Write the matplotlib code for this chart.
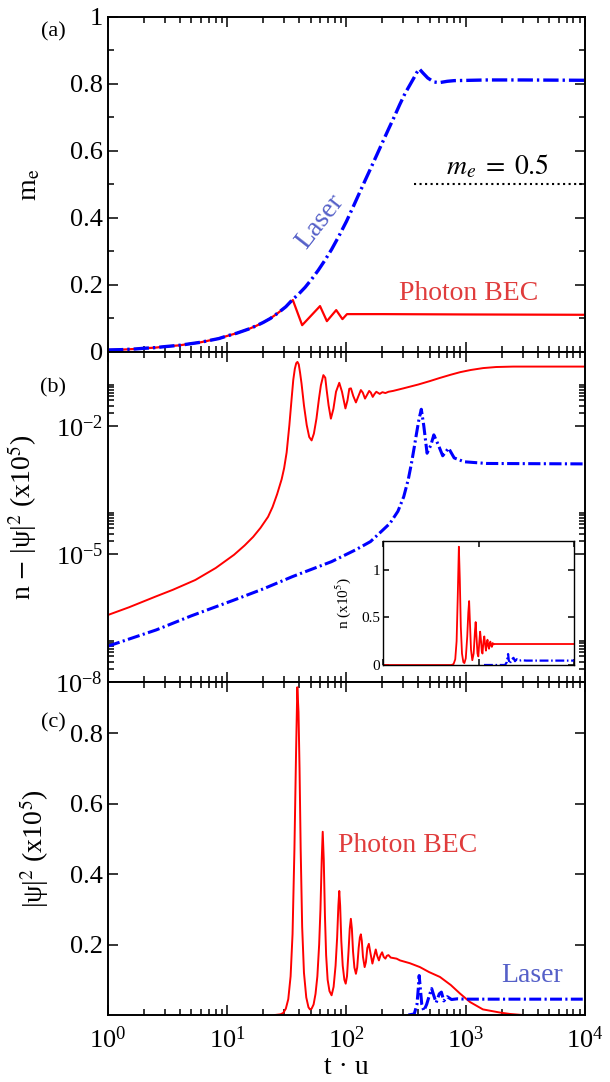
import matplotlib
matplotlib.use('Agg')
import matplotlib.pyplot as plt
import matplotlib.ticker as mticker
import numpy as np

plt.rcParams['font.family'] = ['Liberation Serif', 'DejaVu Serif']
plt.rcParams['mathtext.fontset'] = 'stix'

# ---- data (t in units of 1/u) ----
# (a) excited-state fraction m_e
me_laser = [(1, 0.006), (1.3, 0.007), (1.7, 0.009), (2, 0.011), (2.5, 0.013), (3, 0.016),
            (4, 0.02), (5, 0.025), (6, 0.029), (7, 0.034), (8.5, 0.04), (10, 0.048),
            (12, 0.056), (15, 0.068), (17.5, 0.078), (20, 0.088), (23, 0.1), (27, 0.118),
            (31, 0.135), (35, 0.155), (40, 0.174), (45, 0.193), (51, 0.217), (58, 0.244),
            (66, 0.274), (75, 0.306), (87, 0.348), (100, 0.39), (115, 0.437), (130, 0.479),
            (145, 0.516), (160, 0.549), (180, 0.589), (200, 0.625), (225, 0.665), (250, 0.7),
            (280, 0.739), (310, 0.772), (340, 0.797), (370, 0.82), (390, 0.835), (408, 0.845),
            (440, 0.832), (480, 0.818), (540, 0.806), (600, 0.804), (700, 0.808), (800, 0.81),
            (1500, 0.812), (3000, 0.812), (10000, 0.811)]
me_bec = [(1, 0.006), (1.3, 0.007), (1.7, 0.009), (2, 0.011), (2.5, 0.013), (3, 0.016),
          (4, 0.02), (5, 0.025), (6, 0.029), (7, 0.034), (8.5, 0.04), (10, 0.048),
          (12, 0.056), (15, 0.068), (17.5, 0.078), (20, 0.088), (23, 0.1), (27, 0.118),
          (31, 0.135), (35.5, 0.155), (42.5, 0.08), (60, 0.137), (68.5, 0.092), (82, 0.125),
          (92.5, 0.098), (101, 0.113), (200, 0.113), (1000, 0.112), (10000, 0.111)]

# (b) log10 of n - |psi|^2  (x1e5)
gap_bec = [(1, -6.43), (1.5, -6.25), (2.5, -6.0), (3.5, -5.84), (5.4, -5.61), (8, -5.33),
           (11.4, -5.02), (14, -4.8), (16.5, -4.6), (19, -4.39), (22, -4.13), (24, -3.9),
           (26.2, -3.6), (28.6, -3.25), (30, -2.99), (31.5, -2.62), (33.2, -1.98), (34.7, -1.35),
           (35.8, -0.92), (36.9, -0.66), (37.9, -0.53), (38.8, -0.5), (39.8, -0.56), (40.8, -0.75),
           (42, -1.01), (44, -1.52), (46.4, -1.98), (48.7, -2.26), (51, -2.34), (53.3, -2.18),
           (56, -1.83), (58.8, -1.36), (61, -1.05), (64, -0.81), (66.4, -0.87), (68, -1.13),
           (70.8, -1.52), (74, -1.83), (77.7, -1.6), (81.7, -1.2), (87, -0.99), (91.7, -1.2),
           (98, -1.59), (102, -1.4), (105.6, -1.13), (109, -1.12), (114, -1.3), (120, -1.45),
           (126, -1.3), (132, -1.16), (137, -1.22), (143, -1.36), (149, -1.27), (155, -1.18),
           (160, -1.22), (166, -1.32), (172, -1.25), (178, -1.2), (190, -1.25), (200, -1.21),
           (212, -1.23), (225, -1.2), (246, -1.18), (300, -1.12), (400, -1.03), (500, -0.95),
           (600, -0.88), (750, -0.8), (900, -0.74), (1100, -0.69), (1400, -0.645), (1800, -0.62),
           (2500, -0.61), (10000, -0.61)]
gap_laser = [(1, -7.16), (2.54, -6.78), (5, -6.45), (11.4, -6.08), (20, -5.82), (35.3, -5.53),
             (75, -5.18), (120, -4.9), (159, -4.71), (200, -4.45), (232, -4.28), (270, -4.0),
             (302, -3.66), (330, -3.25), (351, -2.87), (370, -2.5), (387, -2.17), (405, -1.85),
             (424, -1.61), (445, -2.0), (474, -2.64), (510, -2.45), (540, -2.21), (590, -2.45),
             (641, -2.7), (718, -2.52), (800, -2.75), (970, -2.84), (1500, -2.88), (10000, -2.89)]

# (b, inset) n (x1e5)
n_bec = [(1, 0.0), (27, 0.0), (30, 0.01), (32.5, 0.06), (34.7, 0.25), (36.6, 0.7), (38.7, 1.24),
         (40.5, 0.9), (42.5, 0.4), (45, 0.12), (48, 0.03), (50.5, 0.02), (54, 0.07), (58, 0.3),
         (61, 0.55), (63.5, 0.67), (66, 0.45), (69.5, 0.16), (74, 0.05), (79, 0.12), (84, 0.35),
         (87, 0.45), (90.5, 0.3), (95, 0.12), (99, 0.09), (104, 0.25), (108, 0.35), (112, 0.27),
         (117, 0.14), (121, 0.12), (127, 0.25), (132, 0.3), (137, 0.22), (143, 0.15), (149, 0.23),
         (154, 0.265), (160, 0.2), (166, 0.17), (172, 0.225), (177, 0.245), (183, 0.205),
         (190, 0.19), (198, 0.23), (206, 0.215), (215, 0.22), (240, 0.22), (10000, 0.22)]
n_laser = [(130, 0.0), (360, 0.0), (390, 0.03), (405, 0.08), (416, 0.115), (430, 0.05),
           (450, 0.015), (500, 0.06), (540, 0.075), (580, 0.04), (630, 0.06), (700, 0.045),
           (800, 0.05), (1000, 0.046), (10000, 0.046)]

# (c) condensate |psi|^2 (x1e5)
psi_bec = [(25, 0.0), (28, 0.002), (29.5, 0.006), (31, 0.018), (32.5, 0.045), (34, 0.11),
           (35.3, 0.23), (36.6, 0.47), (37.8, 0.75), (38.7, 0.93), (39.6, 0.86), (40.4, 0.7),
           (41.3, 0.47), (42.5, 0.25), (44, 0.12), (46, 0.05), (48, 0.022), (49.4, 0.016),
           (51, 0.018), (53, 0.03), (55, 0.06), (57, 0.11), (59, 0.2), (60.5, 0.3), (62, 0.44),
           (63.2, 0.52), (64.5, 0.44), (66, 0.28), (67.5, 0.17), (69.5, 0.1), (72, 0.068),
           (75, 0.056), (78, 0.08), (81, 0.14), (83.5, 0.22), (85.5, 0.31), (87, 0.352),
           (88.5, 0.31), (90.5, 0.21), (93, 0.14), (96, 0.1), (98.5, 0.089), (101, 0.11),
           (104, 0.18), (106.5, 0.245), (108.8, 0.273), (111, 0.245), (113.5, 0.18),
           (116.5, 0.135), (120, 0.117), (123, 0.135), (126.5, 0.19), (129.5, 0.22), (132, 0.229),
           (134.5, 0.21), (137.5, 0.165), (142, 0.136), (145.5, 0.15), (149.5, 0.19), (154, 0.202),
           (158, 0.18), (165, 0.146), (170, 0.165), (176, 0.186), (181, 0.168), (187, 0.155),
           (193, 0.17), (199, 0.178), (205, 0.165), (212, 0.16), (218, 0.168), (225, 0.17),
           (235, 0.163), (263, 0.16), (281, 0.155), (340, 0.147), (413, 0.136), (492, 0.122),
           (608, 0.108), (750, 0.085), (895, 0.061), (1085, 0.037), (1392, 0.016), (1936, 0.007),
           (2350, 0.003), (3000, 0.0)]
psi_laser = [(330, 0.0), (370, 0.003), (390, 0.03), (400, 0.075), (407, 0.112), (415, 0.08),
             (428, 0.03), (445, 0.012), (470, 0.03), (500, 0.06), (518, 0.075), (540, 0.055),
             (565, 0.035), (600, 0.06), (625, 0.065), (655, 0.04), (700, 0.052), (760, 0.044),
             (850, 0.046), (1000, 0.045), (10000, 0.045)]

RED = '#ff0000'
BLUE = '#0000ff'
RED_TXT = '#e03c3c'
BLUE_TXT = '#5560c8'


def xy(pairs):
    a = np.array(pairs, dtype=float)
    return a[:, 0], a[:, 1]


def style_axes(ax, size=19, major=7, minor=4):
    ax.tick_params(which='both', direction='in', top=True, right=True,
                   labelsize=size, width=1.1)
    ax.tick_params(which='major', length=major)
    ax.tick_params(which='minor', length=minor)
    for s in ax.spines.values():
        s.set_linewidth(1.4)


fig = plt.figure(figsize=(6.1, 10.82), dpi=100)
left, width = 0.177, 0.782
ax_a = fig.add_axes([left, 0.6747, width, 0.3096])
ax_b = fig.add_axes([left, 0.3697, width, 0.3050], sharex=ax_a)
ax_c = fig.add_axes([left, 0.0619, width, 0.3078], sharex=ax_a)

# ---- (a) ----
t, v = xy(me_bec)
ax_a.plot(t, v, color=RED, lw=1.6)
t, v = xy(me_laser)
ax_a.plot(t, v, color=BLUE, lw=2.4, dashes=[4.6, 1.2, 0.7, 1.2])
ax_a.hlines(0.5, 368, 1e4, colors='k', linestyles=':', lw=1.5)
ax_a.set_xscale('log')
ax_a.set_xlim(1, 1e4)
ax_a.set_ylim(0, 1)
ax_a.yaxis.set_major_locator(mticker.MultipleLocator(0.2))
ax_a.yaxis.set_minor_locator(mticker.MultipleLocator(0.1))
ax_a.yaxis.set_major_formatter(mticker.FuncFormatter(lambda y, p: '%g' % y))
ax_a.set_ylabel(r'm$_{\rm e}$', fontsize=20)
ax_a.yaxis.set_label_coords(-0.138, 0.5)
ax_a.text(60, 0.388, 'Laser', color=BLUE_TXT, fontsize=20, rotation=52,
          ha='center', va='center')
ax_a.text(1065, 0.176, 'Photon BEC', color=RED_TXT, fontsize=20, ha='center', va='center')
ax_a.text(1860, 0.553, r'$m_e\;=\;0.5$', fontsize=20, ha='center', va='center')
ax_a.text(-0.115, 0.955, '(a)', transform=ax_a.transAxes, fontsize=16,
          ha='center', va='center')

# ---- (b) ----
t, v = xy(gap_bec)
ax_b.plot(t, 10 ** v, color=RED, lw=1.4)
t, v = xy(gap_laser)
ax_b.plot(t, 10 ** v, color=BLUE, lw=2.2, dashes=[4.0, 1.1, 0.7, 1.1])
ax_b.set_yscale('log')
ax_b.set_ylim(1e-8, 0.54)
ax_b.yaxis.set_major_locator(mticker.FixedLocator([1e-8, 1e-5, 1e-2]))
minor_b = [k * 10.0 ** e for e in (-8, -5, -2) for k in range(2, 10)]
ax_b.yaxis.set_minor_locator(mticker.FixedLocator(minor_b))
ax_b.yaxis.set_minor_formatter(mticker.NullFormatter())
ax_b.set_ylabel('n $-$ |ψ|$^{2}$ (x10$^{5}$)', fontsize=20)
ax_b.yaxis.set_label_coords(-0.145, 0.5)
ax_b.text(-0.115, 0.891, '(b)', transform=ax_b.transAxes, fontsize=16,
          ha='center', va='center')

# inset
ax_i = fig.add_axes([0.628, 0.3854, 0.313, 0.1146])
t, v = xy(n_bec)
ax_i.plot(t, v, color=RED, lw=1.3)
t, v = xy(n_laser)
ax_i.plot(t, v, color=BLUE, lw=1.6, dashes=[4.0, 1.2, 0.7, 1.2])
ax_i.set_xscale('log')
ax_i.set_xlim(1, 1e4)
ax_i.set_ylim(0, 1.3)
ax_i.set_yticks([0, 0.5, 1])
ax_i.yaxis.set_major_formatter(mticker.FuncFormatter(lambda y, p: '%g' % y))
ax_i.yaxis.set_minor_locator(mticker.NullLocator())
ax_i.xaxis.set_major_formatter(mticker.NullFormatter())
ax_i.xaxis.set_minor_formatter(mticker.NullFormatter())
style_axes(ax_i, size=11, major=4, minor=2)
for s in ax_i.spines.values():
    s.set_linewidth(1.0)
ax_i.tick_params(which='both', pad=2)
ax_i.set_ylabel('n (x10$^{5}$)', fontsize=11, labelpad=0)
ax_i.yaxis.set_label_coords(-0.16, 0.5)

# ---- (c) ----
t, v = xy(psi_bec)
ax_c.plot(t, v, color=RED, lw=1.4)
t, v = xy(psi_laser)
ax_c.plot(t, v, color=BLUE, lw=2.2, dashes=[3.9, 1.1, 0.7, 1.1])
ax_c.set_ylim(0, 0.945)
ax_c.set_yticks([0.2, 0.4, 0.6, 0.8])
ax_c.yaxis.set_minor_locator(mticker.NullLocator())
ax_c.set_ylabel('|ψ|$^{2}$ (x10$^{5}$)', fontsize=20)
ax_c.yaxis.set_label_coords(-0.12, 0.5)
ax_c.set_xlabel('t · u', fontsize=20, labelpad=2)
ax_c.text(328, 0.48, 'Photon BEC', color=RED_TXT, fontsize=20, ha='center', va='center')
ax_c.text(3630, 0.112, 'Laser', color=BLUE_TXT, fontsize=20, ha='center', va='center')
ax_c.text(-0.115, 0.877, '(c)', transform=ax_c.transAxes, fontsize=16,
          ha='center', va='center')

ax_c.xaxis.set_major_locator(mticker.LogLocator(base=10, numticks=10))
ax_c.xaxis.set_minor_locator(mticker.LogLocator(base=10, subs=np.arange(2, 10), numticks=20))
ax_c.xaxis.set_minor_formatter(mticker.NullFormatter())

for ax in (ax_a, ax_b, ax_c):
    style_axes(ax)
ax_a.tick_params(labelbottom=False)
ax_b.tick_params(labelbottom=False)
ax_c.tick_params(axis='x', pad=8)

fig.savefig('out.png', dpi=100)
